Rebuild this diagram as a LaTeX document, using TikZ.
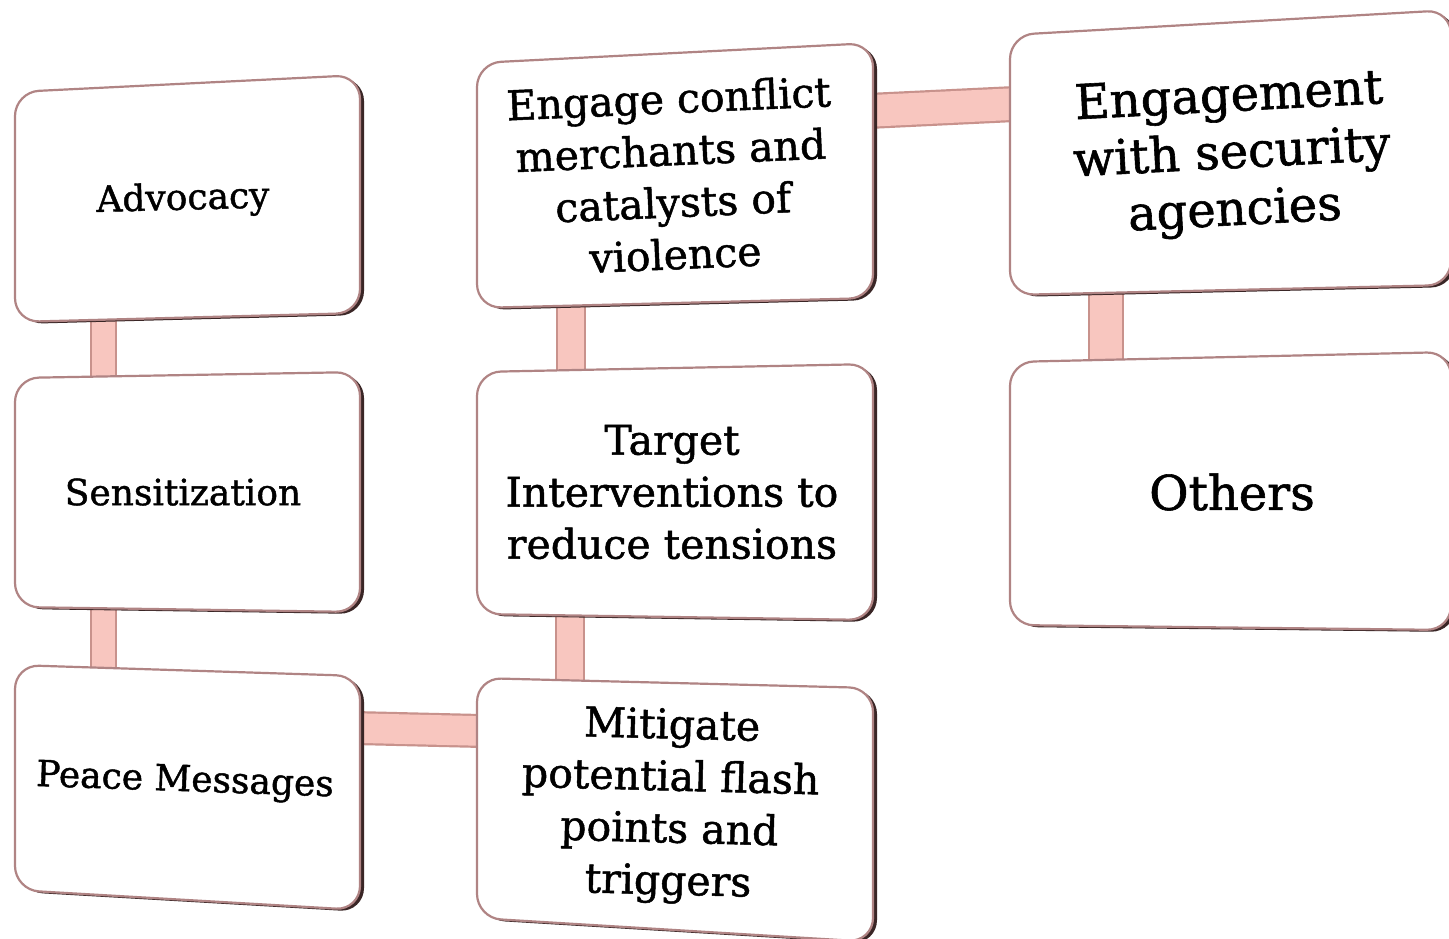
\documentclass[tikz,border=0pt]{standalone}
\usepackage{fontspec}
\setmainfont{DejaVu Serif}[BoldFont=DejaVu Serif, BoldFeatures={FakeBold=1.2}]
\usetikzlibrary{calc}
\definecolor{bord}{HTML}{B08484}
\definecolor{shad}{HTML}{3A2626}
\definecolor{connf}{HTML}{F8C6BF}
\definecolor{conne}{HTML}{C8928C}
\tikzset{
  boxline/.style={draw=bord, line width=1.1pt, fill=white, rounded corners=12pt},
  boxshadow/.style={fill=shad, rounded corners=12pt},
  connout/.style={draw=conne, line width=#1},
  connin/.style={draw=connf, line width=#1},
  lbl/.style={align=center, inner sep=0pt, font=\bfseries\fontsize{18}{25.5}\selectfont},
  lblmid/.style={align=center, inner sep=0pt, font=\bfseries\fontsize{20.5}{26}\selectfont},
  lblbig/.style={align=center, inner sep=0pt, font=\bfseries\fontsize{24}{28.5}\selectfont},
}
\newcommand\perspbox[1]{%
  \fill[boxshadow] ([shift={(4,2)}]#1-tl) -- ([shift={(4,2)}]#1-tr) -- ([shift={(4,2)}]#1-br) -- ([shift={(4,2)}]#1-bl) -- cycle;
  \draw[boxline] (#1-tl) -- (#1-tr) -- (#1-br) -- (#1-bl) -- cycle;
}
\begin{document}
\begin{tikzpicture}[x=0.5pt,y=-0.5pt]
\useasboundingbox (0,0) rectangle (1449,938);
\fill[white] (0,0) rectangle (1449,938);
% box corners
\coordinate (adv-tl) at (15,92);   \coordinate (adv-tr) at (360,75);
\coordinate (adv-br) at (360,313); \coordinate (adv-bl) at (15,322);
\coordinate (sen-tl) at (15,378);  \coordinate (sen-tr) at (360,372);
\coordinate (sen-br) at (360,612); \coordinate (sen-bl) at (15,607);
\coordinate (pea-tl) at (15,665);  \coordinate (pea-tr) at (360,676);
\coordinate (pea-br) at (360,910); \coordinate (pea-bl) at (15,890);
\coordinate (eng-tl) at (477,63);  \coordinate (eng-tr) at (873,43);
\coordinate (eng-br) at (873,298); \coordinate (eng-bl) at (477,308);
\coordinate (tar-tl) at (477,372); \coordinate (tar-tr) at (873,364);
\coordinate (tar-br) at (873,620); \coordinate (tar-bl) at (477,614);
\coordinate (mit-tl) at (477,678); \coordinate (mit-tr) at (873,688);
\coordinate (mit-br) at (873,942); \coordinate (mit-bl) at (477,918);
\coordinate (sec-tl) at (1010,35); \coordinate (sec-tr) at (1451,10);
\coordinate (sec-br) at (1451,285);\coordinate (sec-bl) at (1010,295);
\coordinate (oth-tl) at (1010,362);\coordinate (oth-tr) at (1451,352);
\coordinate (oth-br) at (1451,630);\coordinate (oth-bl) at (1010,625);
% connector ends
\coordinate (as-a) at (103.5,315); \coordinate (as-b) at (103.5,382);
\coordinate (sp-a) at (103.5,605); \coordinate (sp-b) at (103.5,670);
\coordinate (pm-a) at (355,728);   \coordinate (pm-b) at (482,731);
\coordinate (et-a) at (571,300);   \coordinate (et-b) at (571,376);
\coordinate (tm-a) at (570,615);   \coordinate (tm-b) at (570,682);
\coordinate (es-a) at (868,111);   \coordinate (es-b) at (1015,104);
\coordinate (so-a) at (1106,290);  \coordinate (so-b) at (1106,366);
% connectors
\foreach \a/\b/\w in {as-a/as-b/27, sp-a/sp-b/27, et-a/et-b/30, tm-a/tm-b/30, so-a/so-b/36, pm-a/pm-b/34, es-a/es-b/36}{
  \draw[connout=\w*0.5pt] (\a) -- (\b);
  \draw[connin=\w*0.5pt-2.2pt] (\a) -- (\b);
}
% boxes
\perspbox{adv}
\perspbox{sen}
\perspbox{pea}
\perspbox{eng}
\perspbox{tar}
\perspbox{mit}
\perspbox{sec}
\perspbox{oth}
% labels
\node[lbl, rotate=1.5] (tadv) at (183,200) {Advocacy};
\node[lbl] (tsen) at (183,492) {Sensitization};
\node[lbl, rotate=-2] (tpea) at (185,782) {Peace Messages};
\node[lblmid, rotate=2.5] (teng) at (672,176) {Engage conflict\\merchants and\\catalysts of\\violence};
\node[lblmid] (ttar) at (672,492) {Target\\Interventions to\\reduce tensions};
\node[lblmid, rotate=-1.5] (tmit) at (670,806) {Mitigate\\potential flash\\points and\\triggers};
\node[lblbig, rotate=3] (tsec) at (1232,156) {Engagement\\with security\\agencies};
\node[lblbig] (toth) at (1232,492) {Others};
\end{tikzpicture}
\end{document}
